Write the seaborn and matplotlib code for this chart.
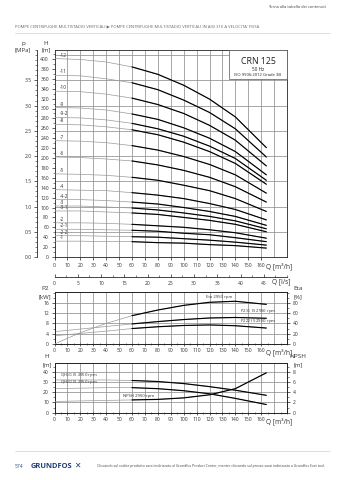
import matplotlib
matplotlib.use("Agg")
import matplotlib.pyplot as plt
import seaborn as sns
import numpy as np
from matplotlib.ticker import MultipleLocator, FixedLocator, FormatStrFormatter, NullLocator
from matplotlib.patches import Rectangle
from matplotlib.lines import Line2D

# ---------------- data ----------------
Q = [0, 20, 40, 60, 80, 100, 120, 140, 164]          # m3/h

STAGE_LABELS = ["-12", "-11", "-10", "-9", "-9-2", "-8", "-7", "-6", "-5",
                "-4", "-4-2", "-3", "-3-1", "-2", "-2-1", "-2-2", "-1"]
H_12 = [401, 399, 394, 384, 369, 347, 319, 283, 221]
H_11 = [367, 366, 360, 352, 338, 317, 292, 259, 202]
H_10 = [335, 334, 329, 321, 308, 290, 266, 236, 184]
H_9 = [302, 301, 297, 289, 278, 261, 240, 213, 166]
H_9_2 = [282, 281, 277, 270, 259, 244, 224, 199, 155]
H_8 = [268, 267, 263, 257, 247, 232, 213, 189, 147]
H_7 = [235, 234, 231, 225, 216, 203, 187, 166, 129]
H_6 = [202, 201, 198, 194, 186, 175, 161, 142, 111]
H_5 = [168, 167, 165, 161, 155, 145, 134, 118, 92]
H_4 = [136, 135, 134, 130, 125, 118, 108, 96, 75]
H_4_2 = [116, 116, 114, 111, 107, 100, 92, 82, 64]
H_3 = [103, 103, 101, 99, 95, 89, 82, 73, 57]
H_3_1 = [93, 93, 91, 89, 86, 80, 74, 66, 51]
H_2 = [69, 69, 68, 66, 63, 60, 55, 49, 38]
H_2_1 = [56, 56, 55, 54, 52, 48, 45, 39, 31]
H_2_2 = [43, 43, 42, 41, 40, 37, 34, 30, 24]
H_1 = [32, 32, 31, 31, 29, 28, 25, 23, 18]
STAGE_CURVES = [H_12, H_11, H_10, H_9, H_9_2, H_8, H_7, H_6, H_5,
                H_4, H_4_2, H_3, H_3_1, H_2, H_2_1, H_2_2, H_1]

P2_FULL = [4.8, 5.8, 6.8, 7.8, 8.7, 9.5, 10.1, 10.3, 10.0]     # kW
P2_REDUCED = [3.2, 4.1, 5.0, 6.0, 6.7, 7.2, 7.4, 7.1, 6.2]     # kW
ETA = [0, 22, 40, 55, 66, 75, 81, 83, 77]                       # %

QH_FULL = [32, 32, 32, 31.5, 30.5, 28.5, 25.5, 22, 17]          # m
QH_REDUCED = [23.5, 24, 24.5, 24.5, 23.5, 21.5, 18.5, 14, 8]     # m
NPSH = [2.2, 2.3, 2.4, 2.5, 2.6, 2.9, 3.5, 4.7, 7.8]            # m

Q_TICKS = list(range(0, 170, 10))
LS_TICKS = list(range(0, 50, 5))
P_TICKS = [0.0, 0.5, 1.0, 1.5, 2.0, 2.5, 3.0, 3.5]
P2_TICKS = [0, 4, 8, 12, 16]
ETA_TICKS = [0, 20, 40, 60, 80]
HN_TICKS = [0, 10, 20, 30, 40]
NPSH_TICKS = [0, 2, 4, 6, 8]

# ---------------- style ----------------
sns.set_style("ticks")
plt.rcParams['font.family'] = ['Open Sans', 'DejaVu Sans']
TXT = '#333333'
GRID = '#8f8f8f'
THIN = '#9a9a9a'
TS = 3.6
W, HP = 339, 480


def rect(x0, y0, x1, y1):
    return [x0 / W, 1 - y1 / HP, (x1 - x0) / W, (y1 - y0) / HP]


def style_ax(a):
    for s in a.spines.values():
        s.set_linewidth(0.6)
        s.set_color('#222222')
    a.tick_params(which='major', length=2.5, width=0.5, labelsize=TS,
                  colors='#222222', labelcolor=TXT, pad=1.5)
    a.tick_params(which='minor', length=1.4, width=0.4, colors='#222222')
    a.set_xlabel('')
    a.set_ylabel('')


def draw(a, q, v, start=60):
    sns.lineplot(x=q, y=v, ax=a, color=THIN, lw=0.5, legend=False, sort=False, zorder=3)
    qq = [x for x in q if x >= start]
    vv = [y for x, y in zip(q, v) if x >= start]
    sns.lineplot(x=qq, y=vv, ax=a, color='black', lw=0.85, legend=False, sort=False, zorder=4)


def grid_lines(a, hvals):
    for q in Q_TICKS[1:] + [170]:
        a.axvline(q, color=GRID, lw=0.55, zorder=1)
    for v in hvals:
        a.axhline(v, color=GRID, lw=0.55, zorder=1)


fig = plt.figure(figsize=(W / 100, HP / 100), dpi=100)

# ---------------- main QH chart ----------------
M2P = 101.97
ax = fig.add_axes(rect(54.5, 50, 287, 257))
ax.set_xlim(0, 180)
ax.set_ylim(0, 207 / 0.495)
grid_lines(ax, [p * M2P for p in [0.5, 1.0, 1.5, 2.0, 2.5, 3.0, 3.5, 4.0]])
for lab, vals in zip(STAGE_LABELS, STAGE_CURVES):
    draw(ax, Q, vals)
    ax.text(4, vals[0] + 2, lab, fontsize=3.4, color=TXT, ha='left', va='bottom')
ax.set_xticks(Q_TICKS)
ax.set_xticklabels([str(q) for q in Q_TICKS])
ax.xaxis.set_minor_locator(NullLocator())
ax.yaxis.set_major_locator(MultipleLocator(20))
ax.yaxis.set_minor_locator(MultipleLocator(10))
style_ax(ax)
sec = ax.secondary_yaxis(-17.5 / 232.5,
                         functions=(lambda h: np.asarray(h) / M2P,
                                    lambda p: np.asarray(p) * M2P))
sec.yaxis.set_major_locator(FixedLocator(P_TICKS))
sec.yaxis.set_minor_locator(MultipleLocator(0.1))
sec.yaxis.set_major_formatter(FormatStrFormatter('%.1f'))
sec.spines['left'].set_linewidth(0.6)
sec.tick_params(which='major', length=2.5, width=0.5, labelsize=TS, labelcolor=TXT, pad=1.5)
sec.tick_params(which='minor', length=1.4, width=0.4)

# info box
box = Rectangle((229 / W, 1 - 79 / HP), 58 / W, 29 / HP, transform=fig.transFigure,
                facecolor='white', edgecolor='#555555', lw=0.5, zorder=5)
fig.add_artist(box)
fig.text(258 / W, 1 - 61 / HP, 'CRN 125', fontsize=6.3, ha='center', va='center', color='#222222', zorder=6)
fig.text(258 / W, 1 - 69.5 / HP, '50 Hz', fontsize=3.4, ha='center', va='center', color='#222222', zorder=6)
fig.text(258 / W, 1 - 75.5 / HP, 'ISO 9906:2012 Grade 3B', fontsize=3.0, ha='center', va='center', color='#222222', zorder=6)

fig.text(23 / W, 1 - 43.5 / HP, 'p', fontsize=4.6, ha='center', va='center', color=TXT)
fig.text(23 / W, 1 - 50 / HP, '[MPa]', fontsize=4.3, ha='center', va='center', color=TXT)
fig.text(46 / W, 1 - 43.5 / HP, 'H', fontsize=4.6, ha='center', va='center', color=TXT)
fig.text(46 / W, 1 - 50 / HP, '[m]', fontsize=4.3, ha='center', va='center', color=TXT)
fig.text(279 / W, 1 - 266.5 / HP, 'Q [m³/h]', fontsize=4.8, ha='center', va='center', color=TXT)

# ---------------- Q in l/s axis ----------------
axl = fig.add_axes(rect(54.5, 270, 287, 276.5))
axl.set_xlim(0, 180 / 3.6)
axl.set_ylim(0, 1)
axl.patch.set_visible(False)
for s in ['top', 'left', 'right']:
    axl.spines[s].set_visible(False)
axl.spines['bottom'].set_linewidth(0.6)
axl.set_yticks([])
axl.set_xticks(LS_TICKS)
axl.set_xticklabels([str(t) for t in LS_TICKS])
axl.xaxis.set_minor_locator(MultipleLocator(2.5))
axl.tick_params(axis='x', which='major', direction='in', length=2.5, width=0.5,
                labelsize=TS, labelcolor=TXT, pad=3)
axl.tick_params(axis='x', which='minor', direction='in', length=1.5, width=0.4)
fig.text(281 / W, 1 - 282 / HP, 'Q [l/s]', fontsize=4.8, ha='center', va='center', color=TXT)

# ---------------- P2 / Eta chart ----------------
ax2 = fig.add_axes(rect(54.5, 292, 287, 344))
ax2.set_xlim(0, 180)
ax2.set_ylim(0, 20.2)
grid_lines(ax2, P2_TICKS[1:])
ax2r = ax2.twinx()
ax2r.set_ylim(0, 101)
draw(ax2, Q, P2_FULL)
draw(ax2, Q, P2_REDUCED)
draw(ax2r, Q, ETA)
ax2.set_xticks(Q_TICKS)
ax2.set_xticklabels([str(q) for q in Q_TICKS])
ax2.xaxis.set_minor_locator(MultipleLocator(5))
ax2.set_yticks(P2_TICKS)
ax2.yaxis.set_minor_locator(MultipleLocator(2))
ax2r.set_yticks(ETA_TICKS)
ax2r.yaxis.set_minor_locator(MultipleLocator(10))
style_ax(ax2)
style_ax(ax2r)
ax2.tick_params(axis='x', which='both', direction='inout')
ax2.text(117, 17.6, 'Eta 2950 rpm', fontsize=3.1, color=TXT, va='bottom')
ax2.text(144, 11.3, 'P2$_{1/1}$ IS 2950 rpm', fontsize=3.1, color=TXT, va='bottom')
ax2.text(144, 7.5, 'P2$_{2/2}$ IS 2950 rpm', fontsize=3.1, color=TXT, va='bottom')
fig.text(45 / W, 1 - 288.5 / HP, 'P2', fontsize=4.6, ha='center', va='center', color=TXT)
fig.text(45 / W, 1 - 296.5 / HP, '[kW]', fontsize=4.3, ha='center', va='center', color=TXT)
fig.text(298 / W, 1 - 288.5 / HP, 'Eta', fontsize=4.6, ha='center', va='center', color=TXT)
fig.text(298 / W, 1 - 296.5 / HP, '[%]', fontsize=4.3, ha='center', va='center', color=TXT)
fig.text(279 / W, 1 - 352 / HP, 'Q [m³/h]', fontsize=4.8, ha='center', va='center', color=TXT)

# ---------------- QH / NPSH chart ----------------
ax3 = fig.add_axes(rect(54.5, 362.6, 287, 412.7))
ax3.set_xlim(0, 180)
ax3.set_ylim(0, 49)
grid_lines(ax3, HN_TICKS[1:])
ax3r = ax3.twinx()
ax3r.set_ylim(0, 49 / 5)
draw(ax3, Q, QH_FULL)
draw(ax3, Q, QH_REDUCED)
draw(ax3r, Q, NPSH)
ax3.set_xticks(Q_TICKS)
ax3.set_xticklabels([str(q) for q in Q_TICKS])
ax3.xaxis.set_minor_locator(MultipleLocator(5))
ax3.set_yticks(HN_TICKS)
ax3.yaxis.set_minor_locator(MultipleLocator(5))
ax3r.set_yticks(NPSH_TICKS)
ax3r.yaxis.set_minor_locator(MultipleLocator(1))
style_ax(ax3)
style_ax(ax3r)
ax3.tick_params(axis='x', which='both', direction='inout')
ax3.text(4, 33.2, 'QH$_{1/1}$ IS 2950 rpm', fontsize=3.1, color=TXT, va='bottom')
ax3.text(4, 26.0, 'QH$_{2/2}$ IS 2950 rpm', fontsize=3.1, color=TXT, va='bottom')
ax3.text(53, 14.0, 'NPSH 2950 rpm', fontsize=3.1, color=TXT, va='bottom')
fig.text(47 / W, 1 - 357 / HP, 'H', fontsize=4.6, ha='center', va='center', color=TXT)
fig.text(47 / W, 1 - 365 / HP, '[m]', fontsize=4.3, ha='center', va='center', color=TXT)
fig.text(298 / W, 1 - 357 / HP, 'NPSH', fontsize=4.6, ha='center', va='center', color=TXT)
fig.text(298 / W, 1 - 365 / HP, '[m]', fontsize=4.3, ha='center', va='center', color=TXT)
fig.text(279 / W, 1 - 421 / HP, 'Q [m³/h]', fontsize=4.8, ha='center', va='center', color=TXT)

# ---------------- page header / footer ----------------
fig.text(268 / W, 1 - 7 / HP, 'Torna alla tabella dei contenuti', fontsize=2.9,
         ha='left', va='center', color='#444444')
fig.text(15 / W, 1 - 27 / HP,
         "POMPE CENTRIFUGHE MULTISTADIO VERTICALI ▶ POMPE CENTRIFUGHE MULTISTADIO VERTICALI IN AISI 316 A VELOCITA' FISSA",
         fontsize=2.95, ha='left', va='center', color='#666666')
fig.add_artist(Line2D([15 / W, 330 / W], [1 - 33 / HP] * 2, color='#d0d0d0', lw=0.5))
fig.add_artist(Line2D([15 / W, 330 / W], [1 - 451 / HP] * 2, color='#d0d0d0', lw=0.5))
fig.text(15 / W, 1 - 467 / HP, '574', fontsize=3.6, ha='left', va='center', color='#2a4f8a')
fig.text(31 / W, 1 - 467 / HP, 'GRUNDFOS', fontsize=5.4, fontweight='bold', ha='left',
         va='center', color='#1f3f73')
fig.text(74 / W, 1 - 466 / HP, '✕', fontsize=5.5, ha='left', va='center', color='#1f3f73')
fig.text(97 / W, 1 - 466.5 / HP,
         'Cliccando sul codice prodotto sarai indirizzato al Grundfos Product Center, mentre cliccando sul prezzo sarai indirizzato a Grundfos Ecat tool.',
         fontsize=2.55, ha='left', va='center', color='#444444')

fig.savefig('out.png', dpi=100)
